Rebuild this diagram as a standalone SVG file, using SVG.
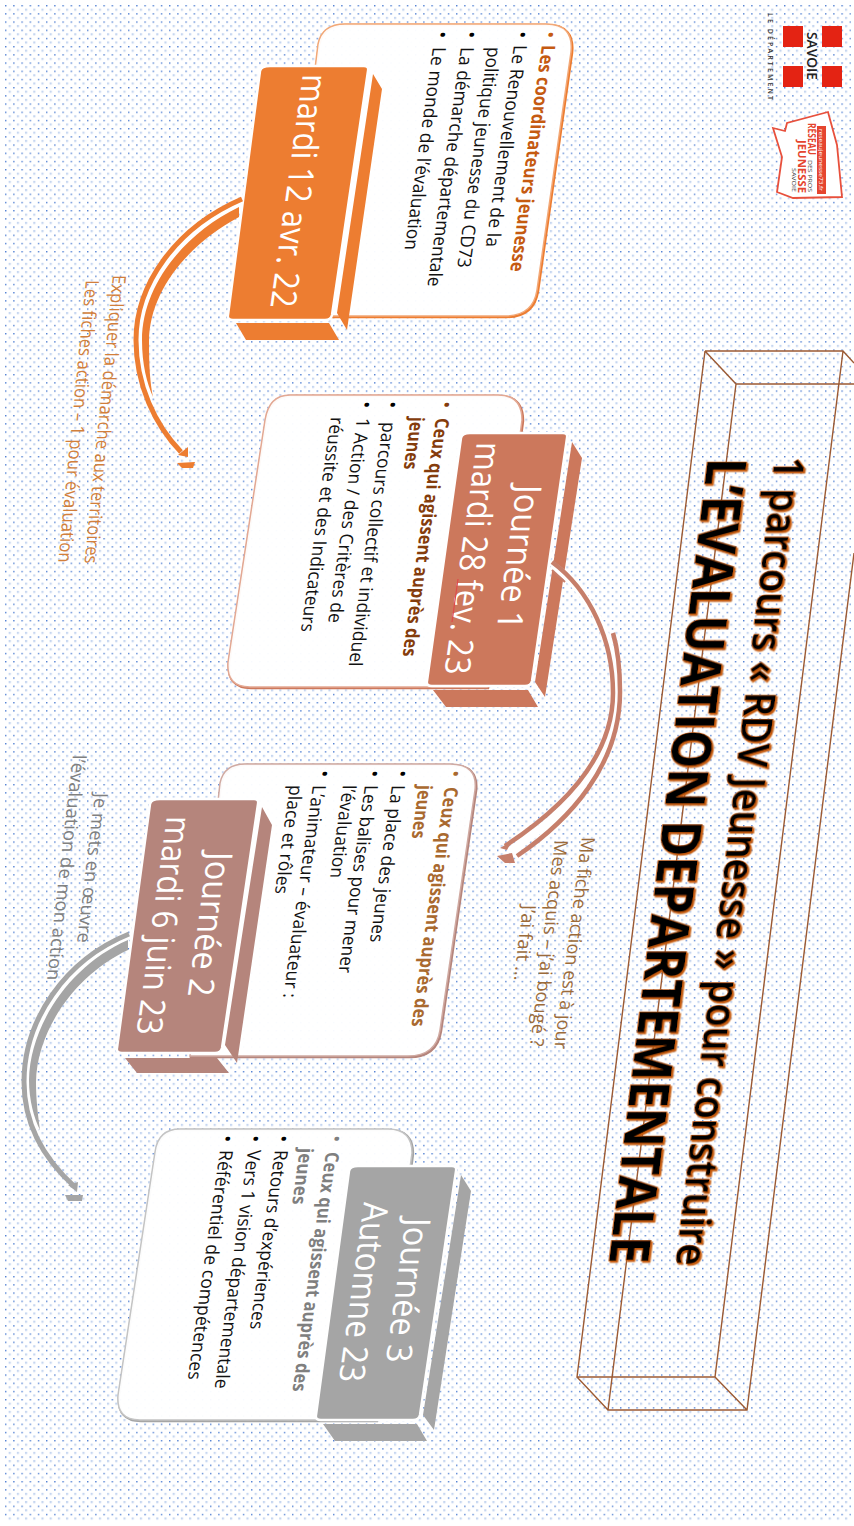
<svg xmlns="http://www.w3.org/2000/svg" xmlns:xlink="http://www.w3.org/1999/xlink" width="854" height="1526" viewBox="0 0 854 1526">
<style>
text{font-family:"Open Sans","Noto Sans","Liberation Sans",sans-serif}
.t{font-size:18.5px;fill:#111}
.b{font-size:19px;font-weight:700}
.d{font-size:35px;fill:#fff}
.l{font-size:18.5px}
.dot{font-size:20px;fill:#000}
.paper{fill:#fff;fill-opacity:.96}
.f{stroke:#fff;stroke-width:2.5}
.wire{fill:none;stroke:#9c5a33;stroke-width:1.4}
.title{fill:#000;stroke:#c55a11;stroke-width:1.4;paint-order:stroke;filter:url(#ts)}
.arc{fill:none;stroke-width:5}
.halo{fill:none;stroke:#fff;stroke-width:8}
</style>
<defs>
<pattern id="bg" x="5" y="5" width="8.2" height="8.2" patternUnits="userSpaceOnUse">
<rect x="3.6" y="3.6" width="2.2" height="2.2" fill="#c6d6f0"/>
<rect x="0" y="0" width="1.4" height="1.4" fill="#4f7fd2"/>
</pattern>
<filter id="ts" x="-5%" y="-10%" width="110%" height="120%"><feDropShadow dx="1.5" dy="-1.5" stdDeviation=".4" flood-color="#c55a11"/></filter>
<path id="p1" d="M318,44Q322,24 345,24L546,24Q574,24 571,52L537,290Q533,316 505,316L285,316Z"/>
<path id="p2" d="M265,420Q269,395 290,395L498,395Q522,395 522,420L487,687L250,687Q226,687 228,662Z"/>
<path id="p3" d="M220,783Q224,764 245,764L450,764Q478,764 475,790L440,1030Q436,1056 408,1056L190,1056Z"/>
<path id="p4" d="M155,1152Q158,1129 180,1129L388,1129Q412,1129 412,1153L376,1420L140,1420Q116,1420 118,1395Z"/>
</defs>
<rect width="854" height="1526" fill="#fff"/>
<rect x="5" y="5" width="846" height="1517" fill="url(#bg)"/>

<g id="title-box">
<path class="wire" d="M705,351L843,351L854,363M705,351L736,384L854,384M705,351L577,1377L715,1377L843,351M736,384L608,1410L747,1410L854,553M577,1377L608,1410M715,1377L747,1410"/>
<text class="title" font-size="42" font-weight="600" textLength="815" lengthAdjust="spacingAndGlyphs" transform="matrix(-.122 .992 -1 0 775 457)">1 parcours « RDV Jeunesse » pour construire</text>
<text class="title" font-size="54" font-weight="700" textLength="812" lengthAdjust="spacingAndGlyphs" transform="matrix(-.122 .992 -1 0 708 458)">L’EVALUATION DEPARTEMENTALE</text>
</g>

<g id="logos">
<g fill="#e42313"><rect x="783" y="26" width="20" height="21"/><rect x="822" y="26" width="20" height="21"/><rect x="783" y="66" width="20" height="21"/><rect x="822" y="66" width="20" height="21"/></g>
<text font-size="15" font-weight="600" fill="#222" textLength="48" lengthAdjust="spacingAndGlyphs" transform="translate(807 32) rotate(90)">SAVOIE</text>
<text font-size="7" font-weight="600" fill="#333" textLength="87" transform="translate(768 13) rotate(90)">LE DÉPARTEMENT</text>
<path d="M773,128L785,131L787,123L828,112L837,145L842,197L793,198L777,192L782,157Z" fill="#fff" stroke="#e8503c" stroke-width="1.8"/>
<rect x="817" y="126" width="9" height="68" fill="#e5452f"/>
<text font-size="6" fill="#fff" textLength="62" lengthAdjust="spacingAndGlyphs" transform="translate(819 129) rotate(90)">reseaujeunesse73.fr</text>
<text font-size="10" font-weight="700" fill="#e5452f" textLength="32" lengthAdjust="spacingAndGlyphs" transform="translate(808 123) rotate(90)">RÉSEAU</text>
<text font-size="6" fill="#333" textLength="32" lengthAdjust="spacingAndGlyphs" transform="translate(808 160) rotate(90)">DES PROS</text>
<text font-size="10" font-weight="700" fill="#e5452f" textLength="53" lengthAdjust="spacingAndGlyphs" transform="translate(798 140) rotate(90)">JEUNESSE</text>
<text font-size="6" fill="#333" textLength="24" lengthAdjust="spacingAndGlyphs" transform="translate(792 168) rotate(90)">SAVOIE</text>
</g>

<g id="node-1">
<use href="#p1" fill="none" stroke="#ed7d31" stroke-width="2.5" transform="translate(1 1)"/>
<use href="#p1" class="paper" stroke="#f2a877" stroke-width="1.5"/>
<text class="dot" style="fill:#c55a11" transform="matrix(-.139 .99 -1 0 544 31)">•</text>
<text class="b" fill="#c55a11" textLength="229" lengthAdjust="spacingAndGlyphs" transform="matrix(-.139 .99 -1 0 542 45)">Les coordinateurs jeunesse</text>
<text class="dot" transform="matrix(-.139 .99 -1 0 516 31)">•</text>
<text class="t" textLength="204" lengthAdjust="spacingAndGlyphs" transform="matrix(-.139 .99 -1 0 514 45)">Le Renouvellement de la</text>
<text class="t" textLength="223" lengthAdjust="spacingAndGlyphs" transform="matrix(-.139 .99 -1 0 488 47)">politique jeunesse du CD73</text>
<text class="dot" transform="matrix(-.139 .99 -1 0 465 31)">•</text>
<text class="t" textLength="242" lengthAdjust="spacingAndGlyphs" transform="matrix(-.139 .99 -1 0 461 47)">La démarche départementale</text>
<text class="dot" transform="matrix(-.139 .99 -1 0 436 31)">•</text>
<text class="t" textLength="205" lengthAdjust="spacingAndGlyphs" transform="matrix(-.139 .99 -1 0 433 47)">Le monde de l’évaluation</text>
<path fill="#ed7d31" d="M373,74L382,89L347,330L337,313ZM236,323L329,323L339,340L246,340Z"/>
<path fill="#ed7d31" class="f" d="M270,66L364,66Q369,66 368,71L332,315Q331,320 325,320L233,320Q227,320 228,315L260,71Q261,66 270,66Z"/>
<text class="d" textLength="236" lengthAdjust="spacingAndGlyphs" transform="matrix(-.139 .99 -1 0 303 74)">mardi 12 avr. 22</text>
</g>

<g id="node-2">
<use href="#p2" fill="none" stroke="#cc785c" stroke-width="2.5" transform="translate(1 1)"/>
<use href="#p2" class="paper" stroke="#e3a893" stroke-width="1.5"/>
<text class="dot" style="fill:#843c0c" transform="matrix(-.139 .99 -1 0 440 401)">•</text>
<text class="b" fill="#843c0c" textLength="241" lengthAdjust="spacingAndGlyphs" transform="matrix(-.139 .99 -1 0 436 418)">Ceux qui agissent auprès des</text>
<text class="b" fill="#843c0c" textLength="53" lengthAdjust="spacingAndGlyphs" transform="matrix(-.139 .99 -1 0 411 417)">jeunes</text>
<text class="dot" transform="matrix(-.139 .99 -1 0 386 401)">•</text>
<text class="t" textLength="247" lengthAdjust="spacingAndGlyphs" transform="matrix(-.139 .99 -1 0 383 422)">parcours collectif et individuel</text>
<text class="dot" transform="matrix(-.139 .99 -1 0 360 401)">•</text>
<text class="t" textLength="207" lengthAdjust="spacingAndGlyphs" transform="matrix(-.139 .99 -1 0 357 418)">1 Action / des Critères de</text>
<text class="t" textLength="217" lengthAdjust="spacingAndGlyphs" transform="matrix(-.139 .99 -1 0 331 417)">réussite et des Indicateurs</text>
<path fill="#cc785c" d="M572,442L582,458L545,697L535,682ZM433,690L528,690L538,707L446,707Z"/>
</g>

<g id="node-3">
<use href="#p3" fill="none" stroke="#b5857c" stroke-width="2.5" transform="translate(1 1)"/>
<use href="#p3" class="paper" stroke="#d0aaa2" stroke-width="1.5"/>
<text class="dot" style="fill:#a9692f" transform="matrix(-.139 .99 -1 0 449 770)">•</text>
<text class="b" fill="#a9692f" textLength="242" lengthAdjust="spacingAndGlyphs" transform="matrix(-.139 .99 -1 0 445 787)">Ceux qui agissent auprès des</text>
<text class="b" fill="#a9692f" textLength="54" lengthAdjust="spacingAndGlyphs" transform="matrix(-.139 .99 -1 0 419 785)">jeunes</text>
<text class="dot" transform="matrix(-.139 .99 -1 0 396 770)">•</text>
<text class="t" textLength="159" lengthAdjust="spacingAndGlyphs" transform="matrix(-.139 .99 -1 0 392 785)">La place des jeunes</text>
<text class="dot" transform="matrix(-.139 .99 -1 0 368 770)">•</text>
<text class="t" textLength="190" lengthAdjust="spacingAndGlyphs" transform="matrix(-.139 .99 -1 0 365 785)">Les balises pour mener</text>
<text class="t" textLength="94" lengthAdjust="spacingAndGlyphs" transform="matrix(-.139 .99 -1 0 343 785)">l’évaluation</text>
<text class="dot" transform="matrix(-.139 .99 -1 0 318 770)">•</text>
<text class="t" textLength="215" lengthAdjust="spacingAndGlyphs" transform="matrix(-.139 .99 -1 0 313 785)">L’animateur – évaluateur :</text>
<text class="t" textLength="110" lengthAdjust="spacingAndGlyphs" transform="matrix(-.139 .99 -1 0 290 785)">place et rôles</text>
<path fill="#b5857c" d="M262,807L272,825L237,1063L225,1045ZM125,1058L217,1058L229,1073L137,1073Z"/>
<path fill="#b5857c" class="f" d="M160,799L254,799Q259,799 258,804L222,1048Q221,1053 215,1053L122,1053Q116,1053 117,1048L150,804Q151,799 160,799Z"/>
<text class="d" textLength="146" lengthAdjust="spacingAndGlyphs" transform="matrix(-.139 .99 -1 0 208 852)">Journée 2</text>
<text class="d" textLength="221" lengthAdjust="spacingAndGlyphs" transform="matrix(-.139 .99 -1 0 167 816)">mardi 6 juin 23</text>
</g>

<g id="node-4">
<use href="#p4" fill="none" stroke="#a5a5a5" stroke-width="2.5" transform="translate(1 1)"/>
<use href="#p4" class="paper" stroke="#c4c4c4" stroke-width="1.5"/>
<text class="dot" style="fill:#7f7f7f" transform="matrix(-.139 .99 -1 0 330 1135)">•</text>
<text class="b" fill="#7f7f7f" textLength="242" lengthAdjust="spacingAndGlyphs" transform="matrix(-.139 .99 -1 0 326 1152)">Ceux qui agissent auprès des</text>
<text class="b" fill="#7f7f7f" textLength="57" lengthAdjust="spacingAndGlyphs" transform="matrix(-.139 .99 -1 0 300 1148)">jeunes</text>
<text class="dot" transform="matrix(-.139 .99 -1 0 277 1135)">•</text>
<text class="t" textLength="181" lengthAdjust="spacingAndGlyphs" transform="matrix(-.139 .99 -1 0 275 1150)">Retours d’expériences</text>
<text class="dot" transform="matrix(-.139 .99 -1 0 249 1135)">•</text>
<text class="t" textLength="241" lengthAdjust="spacingAndGlyphs" transform="matrix(-.139 .99 -1 0 248 1150)">Vers 1 vision départementale</text>
<text class="dot" transform="matrix(-.139 .99 -1 0 221 1135)">•</text>
<text class="t" textLength="232" lengthAdjust="spacingAndGlyphs" transform="matrix(-.139 .99 -1 0 220 1150)">Référentiel de compétences</text>
<path fill="#a5a5a5" d="M461,1175L471,1191L434,1430L423,1415ZM323,1424L417,1424L427,1441L335,1441Z"/>
<path fill="#a5a5a5" class="f" d="M358,1166L452,1166Q457,1166 456,1171L420,1415Q419,1420 413,1420L321,1420Q315,1420 316,1415L349,1171Q350,1166 358,1166Z"/>
<text class="d" textLength="146" lengthAdjust="spacingAndGlyphs" transform="matrix(-.139 .99 -1 0 406 1218)">Journée 3</text>
<text class="d" textLength="182" lengthAdjust="spacingAndGlyphs" transform="matrix(-.139 .99 -1 0 364 1202)">Automne 23</text>
</g>

<g id="connectors">
<g id="conn-1" fill="#ed7d31">
<path class="halo" stroke-width="7" d="M241,203C180,230 139,285 139,340C139,362 144,382 151,397"/>
<path class="arc" stroke="#ed7d31" d="M242,199C175,228 136,285 136,340C136,385 155,425 181,452"/>
<path d="M239,207C185,233 142,285 142,340C142,365 147,383 153,397C150,383 149,365 149,342C149,290 190,243 239,217Z"/>
<path d="M178,455L188,447L188,457ZM177,463L195,462L193,468L182,468Z"/>
</g>
<g id="conn-2" fill="#c67f6b">
<path class="halo" d="M552,565C590,592 616,640 616,693C616,760 565,815 510,851"/>
<path class="arc" stroke="#c67f6b" style="stroke-width:4.5" d="M552,562C590,590 613,640 613,693C613,760 560,810 505,846"/>
<path class="arc" stroke="#c67f6b" style="stroke-width:4.5" d="M613,633C618,650 620,670 620,692C620,765 570,820 517,856"/>
<path class="arc" stroke="#c67f6b" style="stroke-width:2" d="M552,570L565,582"/>
<path d="M500,848L512,841L507,850ZM497,856L512,853L515,863L505,863Z"/>
</g>
<g id="conn-3" fill="#a5a5a5">
<path class="halo" stroke-width="7" d="M128,938C68,962 27,1022 27,1082C27,1100 32,1118 38,1130"/>
<path class="arc" stroke="#a5a5a5" d="M129,934C65,960 24,1020 24,1082C24,1125 45,1160 75,1187"/>
<path d="M128,940C70,965 30,1025 29,1080C29,1100 34,1118 40,1130C38,1115 36,1100 36,1082C37,1030 75,975 128,950Z"/>
<path d="M68,1185L78,1182L77,1192ZM65,1195L83,1195L82,1201L68,1201Z"/>
</g>
</g>

<g id="node-2-date">
<path fill="#cc785c" class="f" d="M470,433L563,433Q568,433 567,438L532,681Q531,686 525,686L432,686Q426,686 427,681L461,438Q462,433 470,433Z"/>
<text class="d" textLength="146" lengthAdjust="spacingAndGlyphs" transform="matrix(-.139 .99 -1 0 517 485)">Journée 1</text>
<text class="d" textLength="235" lengthAdjust="spacingAndGlyphs" transform="matrix(-.139 .99 -1 0 477 442)">mardi 28 fev. 23</text>
<path d="M458,579L452,622" stroke="#e04a4a" stroke-width="1.2" fill="none"/>
</g>

<g id="labels">
<text class="l" fill="#d27f3b" textLength="290" lengthAdjust="spacingAndGlyphs" transform="matrix(-.098 .995 -1 0 113 275)">Expliquer la démarche aux territoires</text>
<text class="l" fill="#d27f3b" textLength="284" lengthAdjust="spacingAndGlyphs" transform="matrix(-.098 .995 -1 0 86 280)">Les fiches action – 1 pour évaluation</text>
<text class="l" fill="#9c6b3a" textLength="214" lengthAdjust="spacingAndGlyphs" transform="matrix(-.13 .991 -1 0 582 837)">Ma fiche action est à jour</text>
<text class="l" fill="#9c6b3a" textLength="208" lengthAdjust="spacingAndGlyphs" transform="matrix(-.12 .993 -1 0 555 840)">Mes acquis – j’ai bougé ?</text>
<text class="l" fill="#9c6b3a" textLength="76" lengthAdjust="spacingAndGlyphs" transform="matrix(-.12 .993 -1 0 523 905)">J’ai fait …</text>
<text class="l" fill="#808080" textLength="151" lengthAdjust="spacingAndGlyphs" transform="matrix(-.12 .993 -1 0 95 793)">Je mets en œuvre</text>
<text class="l" fill="#808080" textLength="227" lengthAdjust="spacingAndGlyphs" transform="matrix(-.115 .993 -1 0 73 755)">l’évaluation de mon action</text>
</g>
</svg>
